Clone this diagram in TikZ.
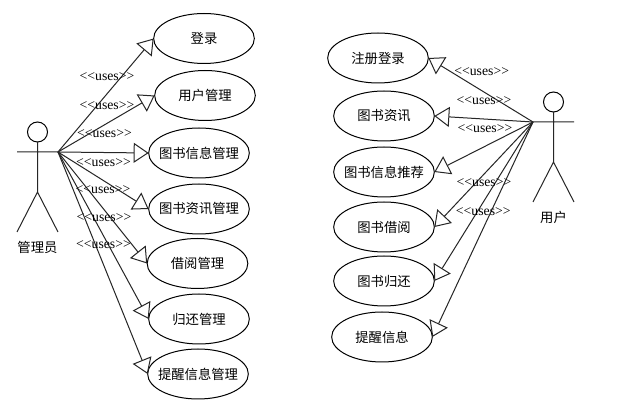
\documentclass[tikz,border=0pt]{standalone}
\usepackage{fontspec}
\setmainfont{Liberation Serif}
\newfontfamily\cjk{Noto Sans CJK SC}
\usetikzlibrary{shapes.geometric,arrows.meta}
\newcommand{\uclabel}[1]{\makebox[0pt][c]{#1}}
\tikzset{
  usecase/.style={draw=black,line width=0.75pt,ellipse,minimum width=75.5pt,minimum height=37.5pt,inner sep=0pt,outer sep=0pt,font=\cjk\fontsize{10}{12}\selectfont},
  uses/.style={draw=black!85,line width=0.75pt,-{Triangle[open,length=11.25pt,width=15pt,fill=white]}},
  limb/.style={draw=black!85,line width=0.75pt},
  head/.style={draw=black,line width=0.75pt,circle,minimum size=15pt,inner sep=0pt,outer sep=0pt},
  stereo/.style={inner sep=0pt,font=\fontsize{10.3}{12}\selectfont},
  actorname/.style={inner sep=0pt,font=\cjk\fontsize{10}{12}\selectfont}
}
\begin{document}
\begin{tikzpicture}[x=0.75pt,y=-0.75pt]
\useasboundingbox (0,0) rectangle (618,416);
\fill[white] (0,0) rectangle (618,416);
% left use cases
\node[usecase] (a1) at (204,38.5) {\uclabel{登录}};
\node[usecase] (a2) at (205,95.5) {\uclabel{用户管理}};
\node[usecase] (a3) at (199,153) {\uclabel{图书信息管理}};
\node[usecase] (a4) at (199,209) {\uclabel{图书资讯管理}};
\node[usecase] (a5) at (197.5,263.5) {\uclabel{借阅管理}};
\node[usecase] (a6) at (199,319) {\uclabel{归还管理}};
\node[usecase] (a7) at (198,374) {\uclabel{提醒信息管理}};
% right use cases
\node[usecase] (b1) at (378,58) {\uclabel{注册登录}};
\node[usecase] (b2) at (384,116) {\uclabel{图书资讯}};
\node[usecase] (b3) at (384,172) {\uclabel{图书信息推荐}};
\node[usecase] (b4) at (384,227) {\uclabel{图书借阅}};
\node[usecase] (b5) at (384,281) {\uclabel{图书归还}};
\node[usecase] (b6) at (382,337) {\uclabel{提醒信息}};
% left actor
\node[head] (h1) at (37.5,132) {};
\coordinate (w1) at (37.5,192);
\coordinate (l1) at (17,232);
\coordinate (r1) at (58,232);
\coordinate (ha1) at (17,152);
\coordinate (hb1) at (58,152);
\draw[limb] (h1.south) -- (w1) -- (l1) (w1) -- (r1) (ha1) -- (hb1);
\node[actorname] (n1) at (37.5,247) {管理员};
% right actor
\node[head] (h2) at (553.5,102) {};
\coordinate (w2) at (553.5,162);
\coordinate (l2) at (533,202);
\coordinate (r2) at (574,202);
\coordinate (ha2) at (533,122);
\coordinate (hb2) at (574,122);
\draw[limb] (h2.south) -- (w2) -- (l2) (w2) -- (r2) (ha2) -- (hb2);
\node[actorname] (n2) at (553.5,217) {用户};
% connectors
\foreach \t in {a1,a2,a3,a4,a5,a6,a7} \draw[uses] (hb1) -- (\t.west);
\foreach \t in {b1,b2,b3,b4,b5,b6} \draw[uses] (ha2) -- (\t.east);
% labels
\node[stereo] (s1) at (107,76.5) {<{}<uses>{}>};
\node[stereo] (s2) at (107,105.7) {<{}<uses>{}>};
\node[stereo] (s3) at (104.5,133.7) {<{}<uses>{}>};
\node[stereo] (s4) at (103.5,162.7) {<{}<uses>{}>};
\node[stereo] (s5) at (103,190) {<{}<uses>{}>};
\node[stereo] (s6) at (104,217.3) {<{}<uses>{}>};
\node[stereo] (s7) at (103.5,244.3) {<{}<uses>{}>};
\node[stereo] (t1) at (481.7,71.3) {<{}<uses>{}>};
\node[stereo] (t2) at (484,100.3) {<{}<uses>{}>};
\node[stereo] (t3) at (485,128.3) {<{}<uses>{}>};
\node[stereo] (t4) at (484,182.7) {<{}<uses>{}>};
\node[stereo] (t5) at (483.3,211.3) {<{}<uses>{}>};
\end{tikzpicture}
\end{document}
